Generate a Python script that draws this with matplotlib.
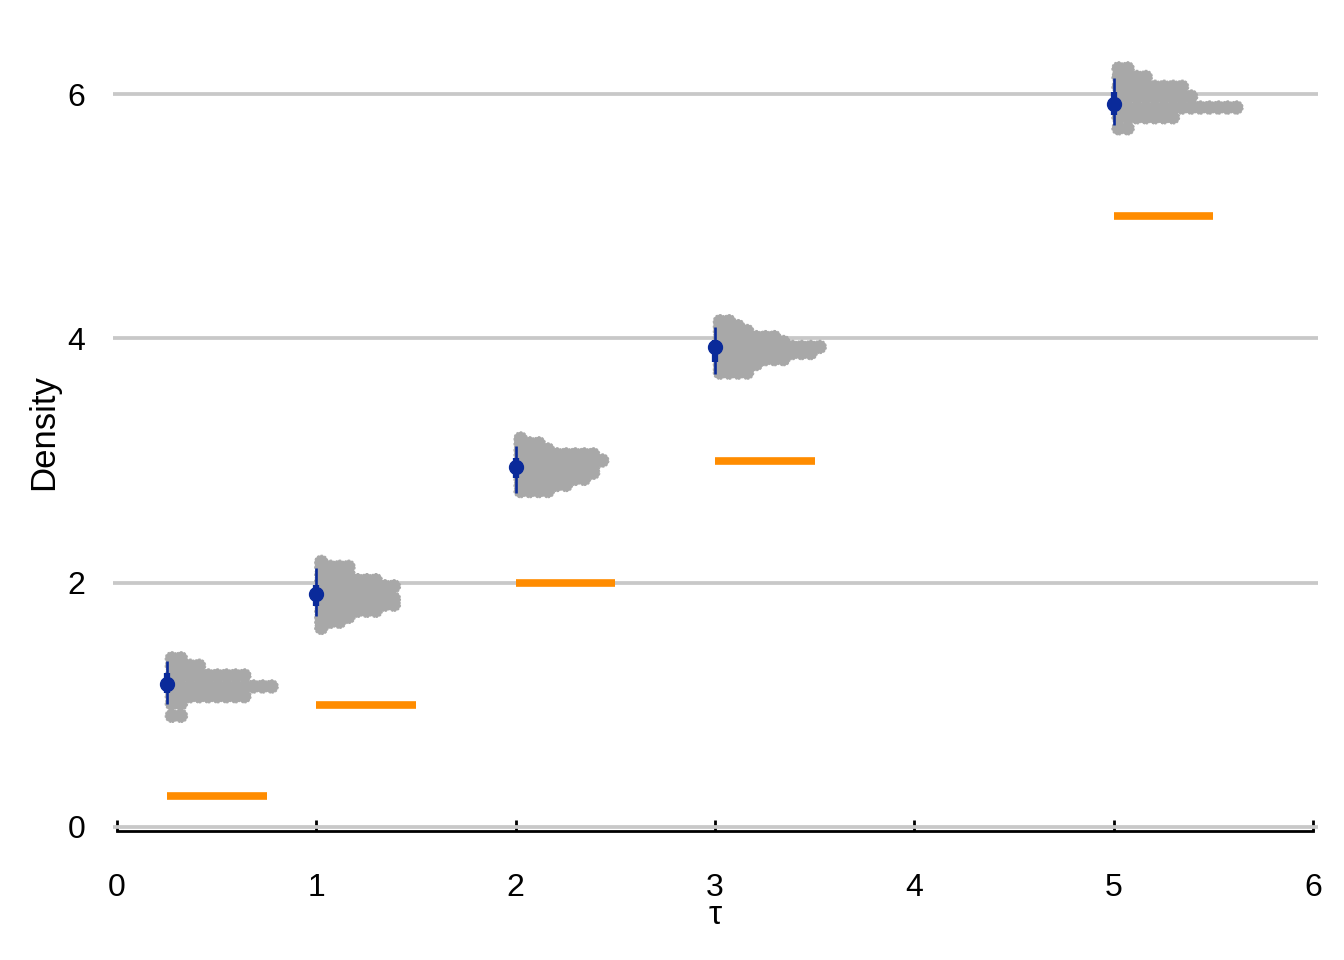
import matplotlib
matplotlib.use("Agg")
import matplotlib.pyplot as plt
import numpy as np

plt.rcParams['font.family'] = ['Liberation Sans', 'DejaVu Sans']

# true tau values (orange reference segments)
taus = [0.25, 1, 2, 3, 5]
seg_len = 0.5

# dot rows for each tau: y of each bin and number of dots in it
rows_y = [
    [1.38, 1.32, 1.24, 1.15, 1.07, 1.01, 0.91],
    [2.17, 2.13, 2.07, 2.02, 1.97, 1.92, 1.87, 1.82, 1.77, 1.72, 1.68, 1.63],
    [3.18, 3.14, 3.09, 3.05, 3.00, 2.95, 2.90, 2.85, 2.80, 2.75],
    [4.14, 4.10, 4.06, 4.01, 3.97, 3.93, 3.88, 3.83, 3.79, 3.75, 3.72],
    [6.21, 6.14, 6.06, 5.98, 5.89, 5.81, 5.72],
]
rows_n = [
    [2, 4, 9, 12, 9, 2, 2],
    [1, 4, 4, 7, 9, 8, 9, 9, 7, 4, 3, 1],
    [1, 3, 4, 9, 10, 9, 9, 8, 6, 4],
    [2, 3, 4, 7, 8, 12, 11, 8, 5, 4, 4],
    [2, 4, 8, 9, 14, 7, 2],
]

# point + intervals (median, 66% and 95%)
med = [1.17, 1.91, 2.95, 3.93, 5.92]
lo66 = [1.10, 1.81, 2.86, 3.81, 5.83]
hi66 = [1.26, 1.98, 3.02, 3.99, 6.02]
lo95 = [1.01, 1.73, 2.73, 3.71, 5.75]
hi95 = [1.36, 2.12, 3.12, 4.09, 6.13]

dot_col = '#a8a8a8'
blue = '#0a2a9a'
orange = '#ff8c00'

fig = plt.figure(figsize=(13.44, 9.6), dpi=100)
ax = fig.add_axes([0.0841, 0.1344, 0.8966, 0.8312])

# dot width in data units along x (dots touch horizontally)
dx = 0.0455
for t, ys, ns in zip(taus, rows_y, rows_n):
    xs, yy = [], []
    for y, n in zip(ys, ns):
        for i in range(n):
            xs.append(t + dx * (i + 0.55))
            yy.append(y)
    ax.scatter(xs, yy, s=92, c=dot_col, edgecolors=dot_col,
               linewidths=0.8, linestyles=(0, (2, 1.5)), zorder=3)

for t in taus:
    ax.plot([t, t + seg_len], [t, t], color=orange, lw=5.5,
            solid_capstyle='butt', zorder=2)

for t, m, a, b, c, d in zip(taus, med, lo66, hi66, lo95, hi95):
    ax.plot([t, t], [c, d], color=blue, lw=1.9, solid_capstyle='butt', zorder=4)
    ax.plot([t, t], [a, b], color=blue, lw=4.5, solid_capstyle='butt', zorder=4)
    ax.plot(t, m, 'o', color=blue, ms=10, zorder=5)

ax.set_xlim(-0.0201, 6.026)
ax.set_ylim(-0.033, 6.50)
ax.set_xticks(range(0, 7))
ax.set_yticks([0, 2, 4, 6])

ax.grid(axis='y', color='#c8c8c8', lw=2.7)
ax.set_axisbelow(True)
for s in ['top', 'right', 'left']:
    ax.spines[s].set_visible(False)
ax.spines['bottom'].set_bounds(0, 6)
ax.spines['bottom'].set_linewidth(2.0)

ax.tick_params(axis='x', direction='in', length=8, width=2.0, pad=30,
               labelsize=23)
ax.tick_params(axis='y', length=0, pad=20, labelsize=23)

ax.set_xlabel('τ', fontsize=24, labelpad=-2)
ax.set_ylabel('Density', fontsize=25, labelpad=5)

fig.savefig('out.png', dpi=100)
